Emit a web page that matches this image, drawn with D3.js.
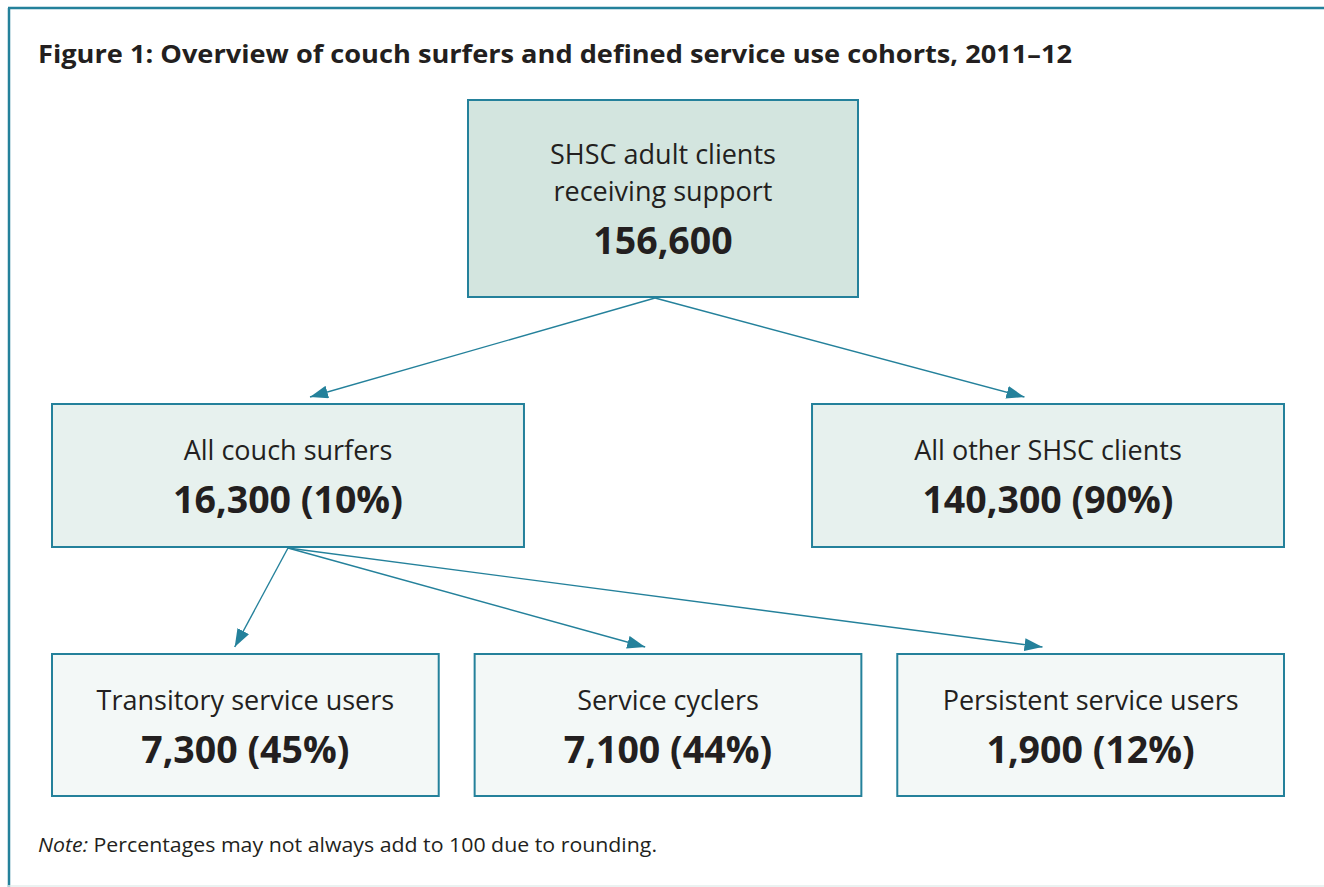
<!doctype html>
<html lang="en">
<head>
<meta charset="utf-8">
<title>Couch surfers overview</title>
<style>
  body { margin: 0; background: #fff; font-family: "Open Sans", sans-serif; }
  svg { display: block; }
  .box { stroke: #24819b; stroke-width: 2px; }
  .link { stroke: #24819b; stroke-width: 1.4px; fill: none; }
  .lbl { fill: #231f20; text-anchor: middle; font-size: 27px; }
  .num { fill: #231f20; text-anchor: middle; font-size: 37.5px; font-weight: 700; }
</style>
<script src="https://cdn.jsdelivr.net/npm/d3@7"></script>
</head>
<body>
<script>
// data
const titleText = "Figure 1: Overview of couch surfers and defined service use cohorts, 2011\u201312";
const labels = [
  ["SHSC adult clients", "receiving support"],
  ["All couch surfers"],
  ["All other SHSC clients"],
  ["Transitory service users"],
  ["Service cyclers"],
  ["Persistent service users"]
];
const counts = [156600, 16300, 140300, 7300, 7100, 1900];
const shares = [null, 10, 90, 45, 44, 12];
const parents = [null, 0, 0, 1, 1, 1];
const levels = [0, 1, 1, 2, 2, 2];

const width = 1324, height = 887;
const fills = ["#d3e5df", "#e7f1ee", "#f3f8f7"];

const svg = d3.select("body").append("svg")
    .attr("width", width)
    .attr("height", height);

// frame
svg.append("line").attr("x1", 9).attr("x2", 9).attr("y1", 8).attr("y2", 887)
    .attr("stroke", "#24819b").attr("stroke-width", 2.5);
svg.append("line").attr("x1", 8).attr("x2", width).attr("y1", 8).attr("y2", 8)
    .attr("stroke", "#24819b").attr("stroke-width", 2.5);
svg.append("line").attr("x1", 8).attr("x2", width).attr("y1", 886).attr("y2", 886)
    .attr("stroke", "#e4eeec").attr("stroke-width", 1.5);

svg.append("text")
    .attr("x", 38).attr("y", 63)
    .attr("font-size", 25.5).attr("font-weight", 700).attr("fill", "#231f20")
    .attr("textLength", 1034).attr("lengthAdjust", "spacingAndGlyphs")
    .text(titleText);

// layout: one band scale per level
const levelY = d3.scaleOrdinal().domain([0, 1, 2]).range([100, 404, 654]);
const levelH = d3.scaleOrdinal().domain([0, 1, 2]).range([197, 143, 142]);
const bands = {
  0: d3.scaleBand().domain([0]).range([468, 858]),
  1: d3.scaleBand().domain([1, 2]).range([52, 1284]).paddingInner(0.379),
  2: d3.scaleBand().domain([3, 4, 5]).range([52, 1284]).paddingInner(0.085)
};

const fmt = d3.format(",");
const nodes = counts.map((c, i) => {
  const sc = bands[levels[i]];
  return {
    i, level: levels[i], lines: labels[i], count: c, share: shares[i], parent: parents[i],
    x: sc(i), w: sc.bandwidth(), y: levelY(levels[i]), h: levelH(levels[i])
  };
});

// arrows
const defs = svg.append("defs");
defs.append("marker")
    .attr("id", "arrow")
    .attr("viewBox", "0 0 18 13")
    .attr("refX", 18).attr("refY", 6.5)
    .attr("markerWidth", 18).attr("markerHeight", 13)
    .attr("markerUnits", "userSpaceOnUse")
    .attr("orient", "auto")
  .append("path")
    .attr("d", "M0,0L18,6.5L0,13Z")
    .attr("fill", "#24819b");

const links = nodes.filter(d => d.parent !== null).map(d => {
  const p = nodes[d.parent];
  const x0 = p.level === 0 ? p.x + p.w / 2 - 8 : p.x + p.w / 2;
  const y0 = p.y + p.h + 1;
  const cx = d.x + d.w / 2;
  const x1 = x0 + (cx - x0) * (d.level === 2 && cx < x0 ? 1.25 : 0.94);
  const y1 = d.y - 7;
  return { x0, y0, x1, y1 };
});

svg.selectAll("line.link").data(links).join("line")
    .attr("class", "link")
    .attr("x1", d => d.x0).attr("y1", d => d.y0)
    .attr("x2", d => d.x1).attr("y2", d => d.y1)
    .attr("marker-end", "url(#arrow)");

// boxes
const g = svg.selectAll("g.node").data(nodes).join("g")
    .attr("class", "node")
    .attr("transform", d => `translate(${d.x},${d.y})`);

g.append("rect")
    .attr("class", "box")
    .attr("width", d => d.w).attr("height", d => d.h)
    .attr("fill", d => fills[d.level]);

g.each(function(d) {
  const sel = d3.select(this);
  const cx = d.w / 2;
  const n = d.lines.length;
  // label lines, then the bold number
  const firstBase = d.level === 0 ? 64 : 56;
  d.lines.forEach((t, k) => {
    sel.append("text").attr("class", "lbl")
        .attr("x", cx).attr("y", firstBase + k * 37)
        .text(t);
  });
  const numBase = firstBase + (n - 1) * 37 + 53;
  sel.append("text").attr("class", "num")
      .attr("x", cx).attr("y", numBase)
      .text(fmt(d.count) + (d.share === null ? "" : ` (${d.share}%)`));
});

// note
const note = svg.append("text")
    .attr("x", 38).attr("y", 852)
    .attr("font-size", 20).attr("fill", "#231f20")
    .attr("textLength", 619).attr("lengthAdjust", "spacingAndGlyphs");
note.append("tspan").attr("font-style", "italic").text("Note:");
note.append("tspan").text(" Percentages may not always add to 100 due to rounding.");
</script>
</body>
</html>
